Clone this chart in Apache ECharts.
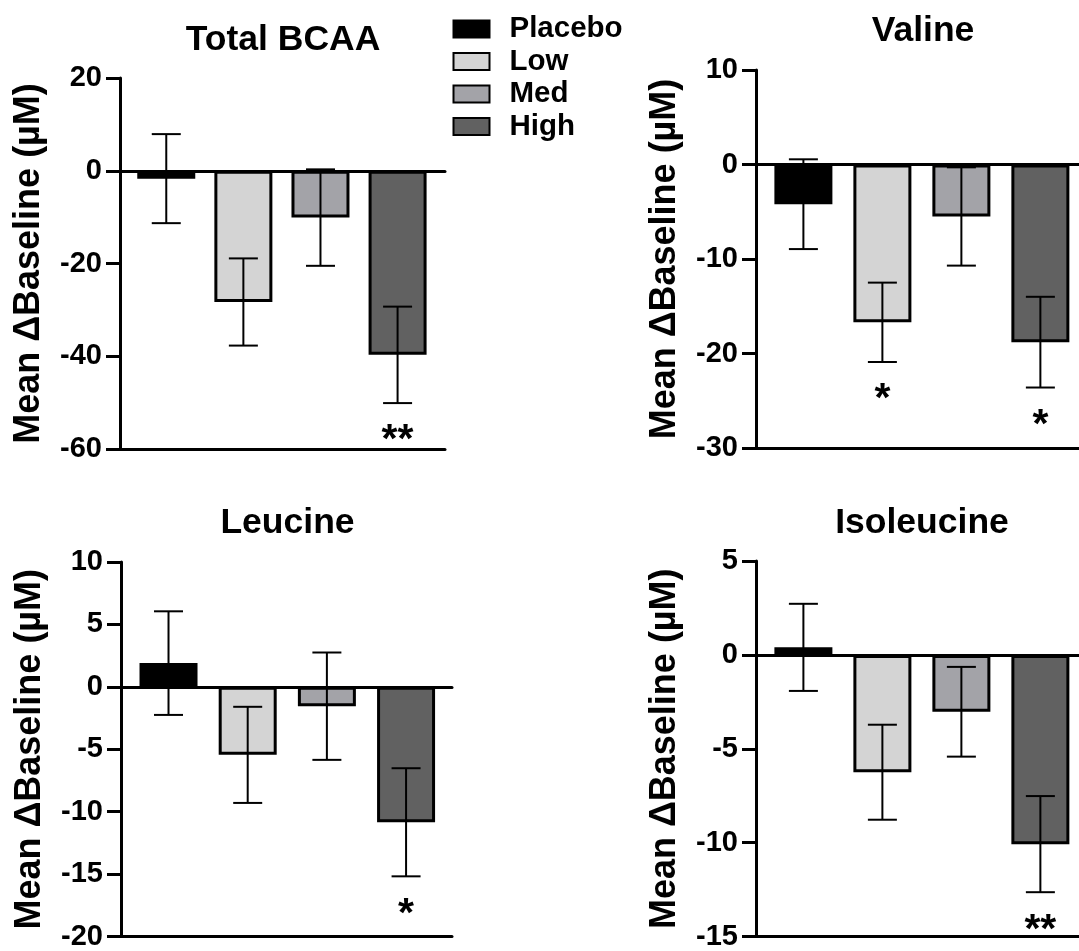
<!DOCTYPE html>
<html>
<head>
<meta charset="utf-8">
<script src="https://cdn.jsdelivr.net/npm/echarts@6/dist/echarts.min.js"></script>
<style>
html,body{margin:0;padding:0;background:#fff;}
#chart{width:1079px;height:951px;}
</style>
</head>
<body>
<div id="chart"></div>
<script>
// ---- data ----
const groups = ['Placebo', 'Low', 'Med', 'High'];
const groupColors = ['#000000', '#d4d4d4', '#a3a3a8', '#616161'];

const panelTitles = ['Total BCAA', 'Valine', 'Leucine', 'Isoleucine'];
const yAxisTitle = 'Mean ΔBaseline (µM)';

const totalMeans = [-1.7, -28.3, -10.1, -39.7];
const totalErrors = [9.6, 9.4, 10.4, 10.4];
const totalSig = ['', '', '', '**'];

const valineMeans = [-4.2, -16.7, -5.5, -18.8];
const valineErrors = [4.75, 4.2, 5.2, 4.8];
const valineSig = ['', '*', '', '*'];

const leucineMeans = [1.9, -5.45, -1.55, -10.85];
const leucineErrors = [4.15, 3.85, 4.3, 4.33];
const leucineSig = ['', '', '', '*'];

const isoleucineMeans = [0.4, -6.25, -3.03, -10.08];
const isoleucineErrors = [2.32, 2.53, 2.39, 2.56];
const isoleucineSig = ['', '', '', '**'];

// y-axis ranges [min, max, interval]
const totalAxis = [-60, 20, 20];
const valineAxis = [-30, 10, 10];
const leucineAxis = [-20, 10, 5];
const isoleucineAxis = [-15, 5, 5];

// ---- layout ----
const FONT = "'Liberation Sans', Arial, Helvetica, sans-serif";
const panels = [
  {title: panelTitles[0], means: totalMeans, errs: totalErrors, sig: totalSig, axis: totalAxis,
   grid: {left: 120, top: 78, width: 325, height: 371}, xMax: 3.615, titleTop: 17, titleX: 278},
  {title: panelTitles[1], means: valineMeans, errs: valineErrors, sig: valineSig, axis: valineAxis,
   grid: {left: 756, top: 70, width: 323, height: 378}, xMax: 3.489, titleTop: 8, titleX: 918},
  {title: panelTitles[2], means: leucineMeans, errs: leucineErrors, sig: leucineSig, axis: leucineAxis,
   grid: {left: 121, top: 562, width: 331, height: 377}, xMax: 3.58, titleTop: 500, titleX: 282.5},
  {title: panelTitles[3], means: isoleucineMeans, errs: isoleucineErrors, sig: isoleucineSig, axis: isoleucineAxis,
   grid: {left: 756, top: 561, width: 323, height: 378}, xMax: 3.489, titleTop: 500, titleX: 917}
];

const grids = [], xAxes = [], yAxes = [], series = [], titles = [];

panels.forEach((p, pi) => {
  grids.push(Object.assign({containLabel: false}, p.grid));
  titles.push({
    text: p.title,
    left: p.titleX,
    top: p.titleTop,
    textAlign: 'center',
    textStyle: {fontFamily: FONT, fontWeight: 'bold', fontSize: 35.5, color: '#000'}
  });
  // zero-line axis
  xAxes.push({
    type: 'value', gridIndex: pi, min: -0.6, max: p.xMax, position: 'bottom',
    axisLine: {show: true, onZero: true, lineStyle: {color: '#000', width: 3}},
    axisTick: {show: false}, axisLabel: {show: false}, splitLine: {show: false}
  });
  // bottom frame axis
  xAxes.push({
    type: 'value', gridIndex: pi, min: -0.6, max: p.xMax, position: 'bottom',
    axisLine: {show: true, onZero: false, lineStyle: {color: '#000', width: 3}},
    axisTick: {show: false}, axisLabel: {show: false}, splitLine: {show: false}
  });
  yAxes.push({
    type: 'value', gridIndex: pi, min: p.axis[0], max: p.axis[1], interval: p.axis[2],
    name: yAxisTitle, nameLocation: 'middle', nameGap: 73,
    nameTextStyle: {fontFamily: FONT, fontWeight: 'bold', fontSize: 36, color: '#000'},
    axisLine: {show: true, onZero: false, lineStyle: {color: '#000', width: 3}},
    axisTick: {show: true, length: 14, lineStyle: {color: '#000', width: 3}},
    axisLabel: {fontFamily: FONT, fontWeight: 'bold', fontSize: 29, color: '#000', margin: 18},
    splitLine: {show: false}
  });
  const xIdx = pi * 2;
  groups.forEach((g, gi) => {
    series.push({
      type: 'bar', name: g, xAxisIndex: xIdx, yAxisIndex: pi,
      barWidth: 58, barGap: '-100%',
      itemStyle: {color: groupColors[gi], borderColor: '#000', borderWidth: 3},
      data: [[gi, p.means[gi]]],
      z: 2
    });
  });
  series.push({
    type: 'custom', xAxisIndex: xIdx, yAxisIndex: pi, z: 5, clip: false, silent: true,
    data: groups.map((g, gi) => [gi, p.means[gi], p.errs[gi]]),
    renderItem: function (params, api) {
      const x = api.value(0), m = api.value(1), e = api.value(2);
      const top = api.coord([x, m + e]);
      const bot = api.coord([x, m - e]);
      const hw = 14.5;
      const ls = {stroke: '#000', lineWidth: 2};
      const children = [
        {type: 'line', shape: {x1: top[0], y1: top[1], x2: bot[0], y2: bot[1]}, style: ls},
        {type: 'line', shape: {x1: top[0] - hw, y1: top[1], x2: top[0] + hw, y2: top[1]}, style: ls},
        {type: 'line', shape: {x1: bot[0] - hw, y1: bot[1], x2: bot[0] + hw, y2: bot[1]}, style: ls}
      ];
      const s = p.sig[params.dataIndex];
      if (s) {
        children.push({
          type: 'text',
          style: {text: s, x: bot[0], y: bot[1] + 38, align: 'center', verticalAlign: 'middle',
                  fontFamily: FONT, fontWeight: 'bold', fontSize: 41, fill: '#000'}
        });
      }
      return {type: 'group', children: children};
    }
  });
});

const chart = echarts.init(document.getElementById('chart'), null, {renderer: 'canvas'});
chart.setOption({
  backgroundColor: '#fff',
  animation: false,
  title: titles,
  legend: {
    data: groups, orient: 'vertical', left: 447.5, top: 9,
    itemWidth: 36, itemHeight: 17, itemGap: 2.5, icon: 'rect',
    textStyle: {fontFamily: FONT, fontWeight: 'bold', fontSize: 29.5, color: '#000', padding: [0, 0, 0, 15]}
  },
  grid: grids,
  xAxis: xAxes,
  yAxis: yAxes,
  series: series
});
</script>
</body>
</html>
